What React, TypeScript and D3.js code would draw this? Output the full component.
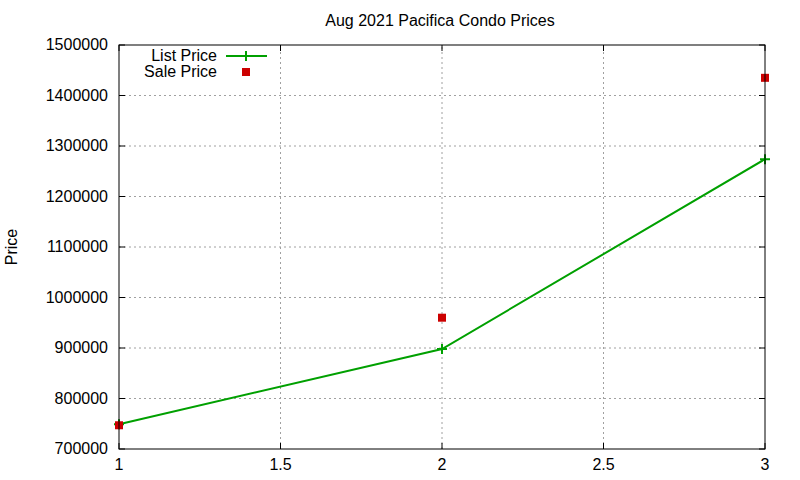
import { scaleLinear, line } from 'd3';

const xValues = [1, 2, 3];
const listPrice = [749000, 898000, 1274000];
const salePrice = [747000, 960000, 1435000];
const xTicks = [1, 1.5, 2, 2.5, 3];
const yTicks = [700000, 800000, 900000, 1000000, 1100000, 1200000, 1300000, 1400000, 1500000];

const GREEN = '#00a000';
const RED = '#cc0000';
const FONT = '"Liberation Sans", Arial, sans-serif';

export default function App() {
  const width = 800;
  const height = 480;
  const margin = { top: 45, right: 35, bottom: 31, left: 119 };

  const xScale = scaleLinear()
    .domain([1, 3])
    .range([margin.left, width - margin.right]);
  const yScale = scaleLinear()
    .domain([700000, 1500000])
    .range([height - margin.bottom, margin.top]);

  const pts = xValues.map((x, i) => ({ x, y: listPrice[i] }));
  const lineGen = line<{ x: number; y: number }>()
    .x((d) => xScale(d.x))
    .y((d) => yScale(d.y));

  const x0 = margin.left;
  const x1 = width - margin.right;
  const y0 = height - margin.bottom;
  const y1 = margin.top;
  const tick = 6;

  return (
    <svg
      width={width}
      height={height}
      style={{ position: 'absolute', left: 0, top: 0, background: '#fff' }}
      fontFamily={FONT}
      fontSize={16}>
      <text x={440} y={26} textAnchor='middle'>
        Aug 2021 Pacifica Condo Prices
      </text>
      <text
        transform={`translate(17, ${(y0 + y1) / 2}) rotate(-90)`}
        textAnchor='middle'>
        Price
      </text>

      {/* grid */}
      <g stroke='#a0a0a0' strokeWidth={1} strokeDasharray='2,3'>
        {xTicks.slice(1, -1).map((t) => (
          <line key={t} x1={xScale(t)} x2={xScale(t)} y1={y0} y2={y1} />
        ))}
        {yTicks.slice(1, -1).map((t) => (
          <line key={t} x1={x0} x2={x1} y1={yScale(t)} y2={yScale(t)} />
        ))}
      </g>

      {/* ticks */}
      <g stroke='#000' strokeWidth={1}>
        {xTicks.map((t) => (
          <g key={t}>
            <line x1={xScale(t)} x2={xScale(t)} y1={y0} y2={y0 - tick} />
            <line x1={xScale(t)} x2={xScale(t)} y1={y1} y2={y1 + tick} />
          </g>
        ))}
        {yTicks.map((t) => (
          <g key={t}>
            <line x1={x0} x2={x0 + tick} y1={yScale(t)} y2={yScale(t)} />
            <line x1={x1} x2={x1 - tick} y1={yScale(t)} y2={yScale(t)} />
          </g>
        ))}
      </g>

      {xTicks.map((t) => (
        <text key={t} x={xScale(t)} y={y0 + 21} textAnchor='middle'>
          {t}
        </text>
      ))}
      {yTicks.map((t) => (
        <text key={t} x={x0 - 11} y={yScale(t) + 5} textAnchor='end'>
          {t}
        </text>
      ))}

      {/* series */}
      <path d={lineGen(pts) ?? ''} fill='none' stroke={GREEN} strokeWidth={2} />
      {pts.map((d) => (
        <path
          key={d.x}
          d={`M${xScale(d.x) - 5},${yScale(d.y)}h10M${xScale(d.x)},${yScale(d.y) - 5}v10`}
          stroke={GREEN}
          strokeWidth={2}
        />
      ))}
      {xValues.map((x, i) => (
        <rect
          key={x}
          x={xScale(x) - 4}
          y={yScale(salePrice[i]) - 4}
          width={8}
          height={8}
          fill={RED}
        />
      ))}

      {/* frame */}
      <rect x={x0} y={y1} width={x1 - x0} height={y0 - y1} fill='none' stroke='#000' strokeWidth={1} />

      {/* legend */}
      <text x={217} y={61} textAnchor='end'>List Price</text>
      <line x1={226} x2={267} y1={56} y2={56} stroke={GREEN} strokeWidth={2} />
      <path d='M241,56h10M246,51v10' stroke={GREEN} strokeWidth={2} />
      <text x={217} y={77} textAnchor='end'>Sale Price</text>
      <rect x={242} y={68} width={8} height={8} fill={RED} />
    </svg>
  );
}
